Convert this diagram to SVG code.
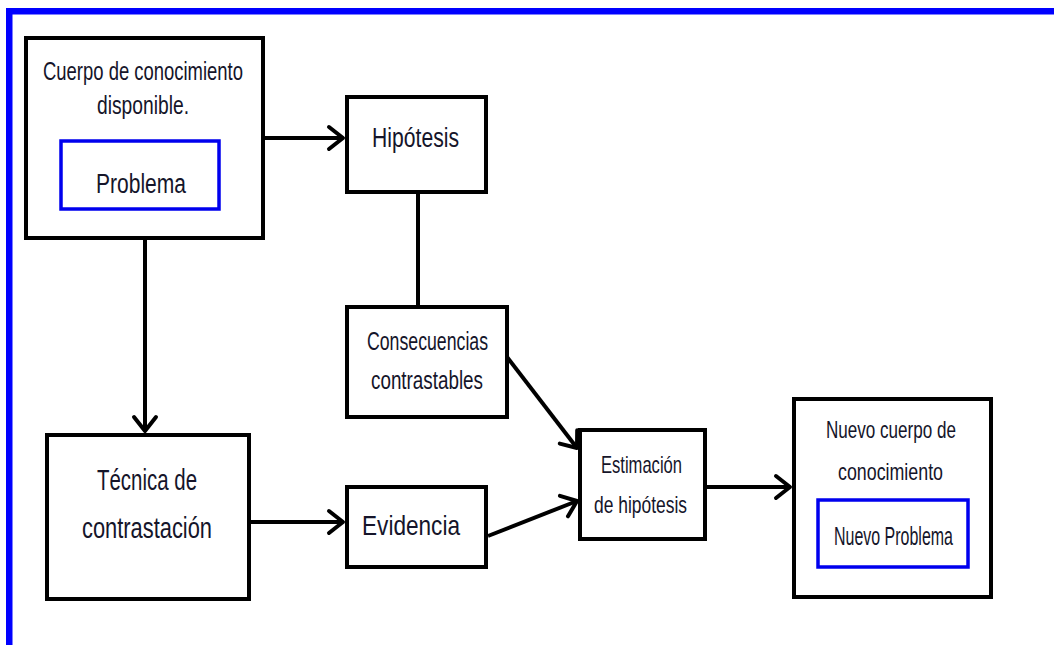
<svg xmlns="http://www.w3.org/2000/svg" width="1054" height="645" viewBox="0 0 1054 645">
<style>
.box{fill:#fff;stroke:#000;stroke-width:4}
.inner{fill:#fff;stroke:#0000ee;stroke-width:3.5}
.conn{stroke:#000;stroke-width:4;fill:none}
text{font-family:"Liberation Sans Narrow","Liberation Sans",Arial,sans-serif;fill:#15152a;text-anchor:start}
</style>
<defs>
<marker id="arr" viewBox="0 0 22 28" refX="19" refY="14" markerWidth="22" markerHeight="28" markerUnits="userSpaceOnUse" orient="auto">
<path d="M5,3 L19,14 L5,25" fill="none" stroke="#000" stroke-width="4" stroke-linecap="round" stroke-linejoin="round"/>
</marker>
</defs>
<rect x="0" y="0" width="1054" height="645" fill="#fff"/>
<g id="frame">
<rect x="6" y="8" width="1048" height="6.5" fill="#0000ff"/>
<rect x="6" y="8" width="6.5" height="637" fill="#0000ff"/>
</g>
<g id="connectors">
<line class="conn" x1="264" y1="138" x2="343" y2="138" marker-end="url(#arr)"/>
<line class="conn" x1="145" y1="240" x2="145" y2="431" marker-end="url(#arr)"/>
<line class="conn" x1="418" y1="193" x2="418" y2="305"/>
<line class="conn" x1="250" y1="522" x2="343" y2="522" marker-end="url(#arr)"/>
<line class="conn" x1="507" y1="357" x2="577" y2="448" marker-end="url(#arr)"/>
<line class="conn" x1="488" y1="536" x2="577" y2="501" marker-end="url(#arr)"/>
<line class="conn" x1="706" y1="487" x2="790" y2="487" marker-end="url(#arr)"/>
</g>
<g id="cuerpo">
<rect class="box" x="26" y="38" width="237" height="200"/>
<text x="43" y="80" font-size="25" textLength="200" lengthAdjust="spacingAndGlyphs">Cuerpo de conocimiento</text>
<text x="97" y="114" font-size="25" textLength="92" lengthAdjust="spacingAndGlyphs">disponible.</text>
<g id="problema">
<rect class="inner" x="61" y="141" width="158" height="68"/>
<text x="96" y="193" font-size="27" textLength="90" lengthAdjust="spacingAndGlyphs">Problema</text>
</g>
</g>
<g id="hipotesis">
<rect class="box" x="347" y="97" width="139" height="95"/>
<text x="372" y="147" font-size="27" textLength="87" lengthAdjust="spacingAndGlyphs">Hipótesis</text>
</g>
<g id="consecuencias">
<rect class="box" x="347" y="307" width="160" height="110"/>
<text x="367" y="350" font-size="25" textLength="121" lengthAdjust="spacingAndGlyphs">Consecuencias</text>
<text x="371" y="389" font-size="25" textLength="112" lengthAdjust="spacingAndGlyphs">contrastables</text>
</g>
<g id="tecnica">
<rect class="box" x="47" y="435" width="202" height="164"/>
<text x="97" y="490" font-size="30" textLength="100" lengthAdjust="spacingAndGlyphs">Técnica de</text>
<text x="82" y="538" font-size="30" textLength="130" lengthAdjust="spacingAndGlyphs">contrastación</text>
</g>
<g id="evidencia">
<rect class="box" x="347" y="487" width="139" height="80"/>
<text x="362" y="535" font-size="28" textLength="98" lengthAdjust="spacingAndGlyphs">Evidencia</text>
</g>
<g id="estimacion">
<rect class="box" x="580" y="430" width="125" height="109"/>
<text x="601" y="473" font-size="24" textLength="81" lengthAdjust="spacingAndGlyphs">Estimación</text>
<text x="594" y="513" font-size="24" textLength="93" lengthAdjust="spacingAndGlyphs">de hipótesis</text>
</g>
<g id="nuevo">
<rect class="box" x="794" y="399" width="197" height="198"/>
<text x="826" y="438" font-size="24" textLength="130" lengthAdjust="spacingAndGlyphs">Nuevo cuerpo de</text>
<text x="838" y="480" font-size="24" textLength="105" lengthAdjust="spacingAndGlyphs">conocimiento</text>
<g id="nuevo-problema">
<rect class="inner" x="818" y="500" width="150" height="67"/>
<text x="834" y="545" font-size="25" textLength="119" lengthAdjust="spacingAndGlyphs">Nuevo Problema</text>
</g>
</g>
</svg>
